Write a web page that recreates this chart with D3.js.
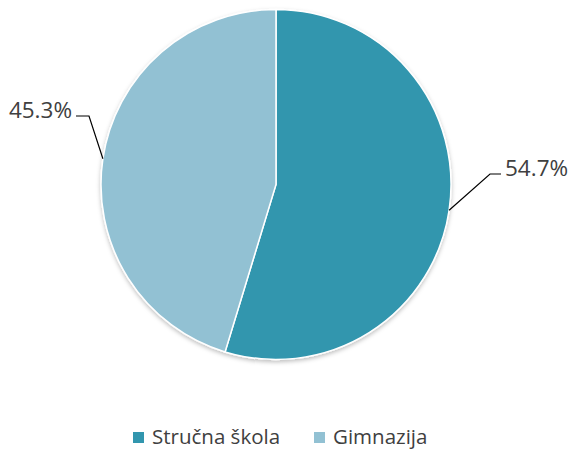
<!DOCTYPE html>
<html>
<head>
<meta charset="utf-8">
<script src="https://cdn.jsdelivr.net/npm/d3@7"></script>
<style>
  body { margin: 0; background: #fff; }
  text { font-family: "Open Sans", sans-serif; fill: #404040; }
</style>
</head>
<body>
<div id="chart"></div>
<script>
var categories = ["Stručna škola", "Gimnazija"];
var values = [54.7, 45.3];
var labels = ["54.7%", "45.3%"];
var colors = ["#3296AE", "#92C1D3"];

var width = 568;
var height = 450;
var cx = 276;
var cy = 184.5;
var radius = 175;

var svg = d3.select("#chart").append("svg")
    .attr("width", width)
    .attr("height", height);

var defs = svg.append("defs");
var shadow = defs.append("filter")
    .attr("id", "shadow")
    .attr("x", "-10%").attr("y", "-10%")
    .attr("width", "120%").attr("height", "120%");
shadow.append("feDropShadow")
    .attr("dx", 0).attr("dy", 2)
    .attr("stdDeviation", 2)
    .attr("flood-color", "#000")
    .attr("flood-opacity", 0.25);

var g = svg.append("g")
    .attr("transform", "translate(" + cx + "," + cy + ")");

var pie = d3.pie().sort(null).value(function(d) { return d; });
var arc = d3.arc().innerRadius(0).outerRadius(radius);

var arcs = pie(values);

g.append("g")
    .attr("filter", "url(#shadow)")
    .selectAll("path")
    .data(arcs)
    .enter()
    .append("path")
    .attr("d", arc)
    .attr("fill", function(d, i) { return colors[i]; })
    .attr("stroke", "#fff")
    .attr("stroke-width", 1.5);

// leader lines + labels
arcs.forEach(function(d, i) {
    var mid = (d.startAngle + d.endAngle) / 2;
    var p0 = [Math.sin(mid) * radius, -Math.cos(mid) * radius];
    var right = mid < Math.PI;
    var p1, p2, tx;
    if (right) {
        p1 = [214, -10.5];
        p2 = [225, -10.5];
        tx = 229;
    } else {
        p1 = [-187, -68.5];
        p2 = [-200, -68.5];
        tx = -204;
    }
    g.append("polyline")
        .attr("points", [p0, p1, p2].map(function(p) { return p.join(","); }).join(" "))
        .attr("fill", "none")
        .attr("stroke", "#000")
        .attr("stroke-width", 1.2);
    g.append("text")
        .attr("x", tx)
        .attr("y", p2[1] + 1.5)
        .attr("text-anchor", right ? "start" : "end")
        .attr("font-size", "22.5px")
        .text(labels[i]);
});

// legend
var legend = svg.append("g");
var legendX = [133, 314];
categories.forEach(function(c, i) {
    legend.append("rect")
        .attr("x", legendX[i])
        .attr("y", 432)
        .attr("width", 11)
        .attr("height", 11)
        .attr("fill", colors[i]);
    legend.append("text")
        .attr("x", legendX[i] + 19)
        .attr("y", 444)
        .attr("font-size", "20.5px")
        .text(c);
});
</script>
</body>
</html>
